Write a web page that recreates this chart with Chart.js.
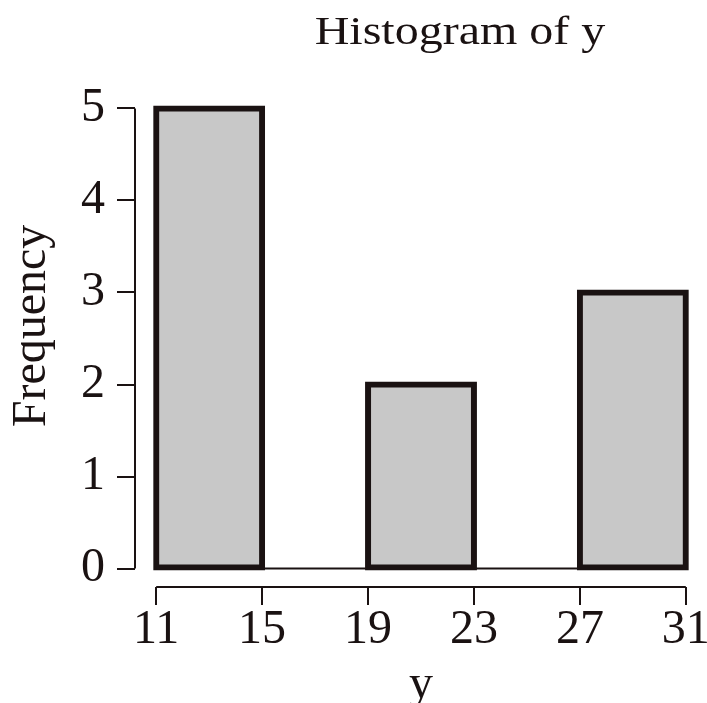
<!DOCTYPE html>
<html>
<head>
<meta charset="utf-8">
<script src="https://cdn.jsdelivr.net/npm/chart.js@4"></script>
<style>
  html, body { margin: 0; padding: 0; background: #fff; }
  #wrap { width: 707px; height: 703px; }
</style>
</head>
<body>
<div id="wrap"><canvas id="histChart"></canvas></div>
<script>
// histogram bins (breaks) and counts
const binEdges = [11, 15, 19, 23, 27, 31];
const counts = [5, 0, 2, 0, 3];
const xTicks = [11, 15, 19, 23, 27, 31];
const yTicks = [0, 1, 2, 3, 4, 5];

const titleText = 'Histogram of y';
const xLabel = 'y';
const yLabel = 'Frequency';

const serif = '"Liberation Serif", "Times New Roman", serif';
const ink = '#1a1212';

const barData = counts.map((c, i) => ({ x: (binEdges[i] + binEdges[i + 1]) / 2, y: c }));

// R style axes: lines only from first to last tick, zero baseline, title and y label
const rAxes = {
    id: 'rAxes',
    afterDatasetsDraw(chart) {
        const { ctx, scales: { x, y } } = chart;
        ctx.save();
        ctx.strokeStyle = ink;
        ctx.lineWidth = 2;
        ctx.beginPath();
        const y0 = y.getPixelForValue(0);
        ctx.moveTo(x.getPixelForValue(binEdges[0]), y0);
        ctx.lineTo(x.getPixelForValue(binEdges[binEdges.length - 1]), y0);
        ctx.stroke();
        ctx.restore();
    },
    afterDraw(chart) {
        const { ctx, scales: { x, y }, chartArea } = chart;
        ctx.save();
        ctx.strokeStyle = ink;
        ctx.lineWidth = 2;
        ctx.beginPath();
        ctx.moveTo(chartArea.left, y.getPixelForValue(yTicks[0]));
        ctx.lineTo(chartArea.left, y.getPixelForValue(yTicks[yTicks.length - 1]));
        ctx.moveTo(x.getPixelForValue(xTicks[0]), chartArea.bottom);
        ctx.lineTo(x.getPixelForValue(xTicks[xTicks.length - 1]), chartArea.bottom);
        ctx.stroke();

        ctx.fillStyle = ink;
        ctx.textAlign = 'center';
        ctx.textBaseline = 'alphabetic';
        // title (the reference face is set a little wide)
        ctx.save();
        ctx.translate(460, 44);
        ctx.scale(1.2, 1);
        ctx.font = '40px ' + serif;
        ctx.fillText(titleText, 0, 0);
        ctx.restore();
        // y axis label
        ctx.save();
        ctx.translate(32, 326);
        ctx.rotate(-Math.PI / 2);
        ctx.font = '48px ' + serif;
        ctx.textBaseline = 'middle';
        ctx.fillText(yLabel, 0, 0);
        ctx.restore();
        ctx.restore();
    }
};

function buildChart() {
    new Chart(document.getElementById('histChart'), {
        type: 'bar',
        data: {
            datasets: [{
                data: barData,
                backgroundColor: ctx => (ctx.raw && ctx.raw.y > 0 ? '#c8c8c8' : 'rgba(0,0,0,0)'),
                borderColor: ink,
                borderWidth: ctx => (ctx.raw && ctx.raw.y > 0 ? 6 : 0),
                borderSkipped: false,
                inflateAmount: 3,
                barPercentage: 1,
                categoryPercentage: 1,
                clip: false
            }]
        },
        options: {
            responsive: true,
            maintainAspectRatio: false,
            animation: false,
            layout: { padding: { top: 90, right: 0, left: 0, bottom: 0 } },
            plugins: {
                legend: { display: false },
                tooltip: { enabled: false },
                title: { display: false }
            },
            scales: {
                x: {
                    type: 'linear',
                    min: 10.2,
                    max: 31.8,
                    offset: false,
                    afterBuildTicks: s => { s.ticks = xTicks.map(v => ({ value: v })); },
                    afterFit: s => { s.height = 116; },
                    border: { display: false },
                    grid: { offset: false, drawOnChartArea: false, drawTicks: true, tickLength: 18, color: ink, lineWidth: 2 },
                    ticks: { color: ink, font: { family: serif, size: 48 }, padding: -3, maxRotation: 0, autoSkip: false },
                    title: { display: true, text: xLabel, color: ink, font: { family: serif, size: 48, lineHeight: 0.75 }, padding: 0 }
                },
                y: {
                    min: -0.2,
                    max: 5.2,
                    afterBuildTicks: s => { s.ticks = yTicks.map(v => ({ value: v })); },
                    afterFit: s => { s.width = 135; },
                    border: { display: false },
                    grid: { drawOnChartArea: false, drawTicks: true, tickLength: 18, color: ink, lineWidth: 2 },
                    ticks: { color: ink, font: { family: serif, size: 48 }, padding: 12 }
                }
            }
        },
        plugins: [rAxes]
    });
}

document.fonts.load('48px "Liberation Serif"').then(buildChart, buildChart);
</script>
</body>
</html>
